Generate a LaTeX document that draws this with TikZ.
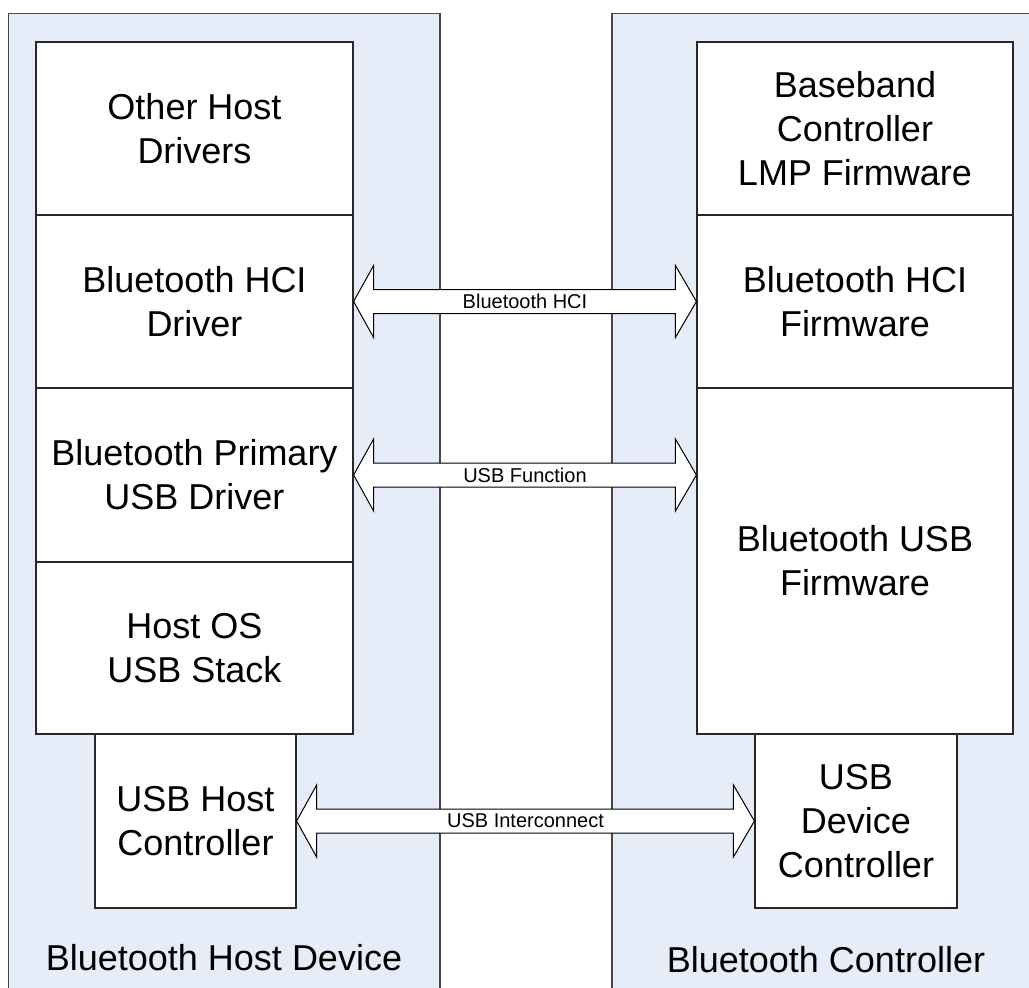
\documentclass[tikz,border=0pt]{standalone}
\usepackage{fontspec}
\setmainfont{Liberation Sans}
\usetikzlibrary{calc}
\definecolor{panelfill}{RGB}{230,237,248}
\definecolor{panelline}{RGB}{70,70,70}
\definecolor{boxline}{RGB}{40,40,40}
\tikzset{
  panel/.style={draw=panelline, fill=panelfill, line width=1.2pt},
  box/.style={draw=boxline, fill=white, line width=1.2pt, rectangle, inner sep=0pt, align=center,
    font=\fontsize{36}{44}\selectfont},
  paneltext/.style={font=\fontsize{36}{44}\selectfont, anchor=base, inner sep=0pt},
  arrowline/.style={draw=black, fill=white, line width=1pt, line join=miter},
  arrowlabel/.style={font=\fontsize{20}{22}\selectfont, inner sep=0pt}
}
\newcommand{\dblarr}[3]{%
  \draw[arrowline] (#1) -- ($(#1)+(20,-36)$) -- ($(#1)+(20,-12)$) -- ($(#2)+(-21,-12)$)
    -- ($(#2)+(-21,-36)$) -- (#2) -- ($(#2)+(-21,36)$) -- ($(#2)+(-21,12)$)
    -- ($(#1)+(20,12)$) -- ($(#1)+(20,36)$) -- cycle;
  \node[arrowlabel] at ($(#1)!0.5!(#2)$) {#3};}
\begin{document}
\begin{tikzpicture}[x=1pt,y=-1pt]
\useasboundingbox (0,0) rectangle (1029,988);
\clip (0,0) rectangle (1029,988);
% panels
\draw[panel] (8.5,13.5) rectangle (440,1010);
\draw[panel] (612,13.5) rectangle (1040,1010);
\node[paneltext] (hostlbl) at (224,970) {Bluetooth Host Device};
\node[paneltext] (ctrllbl) at (826,972) {Bluetooth Controller};
% left stack
\node[box, minimum width=317, minimum height=173] (odrv) at (194.5,128.5) {Other Host\\Drivers};
\node[box, minimum width=317, minimum height=173] (hcidrv) at (194.5,301.5) {Bluetooth HCI\\Driver};
\node[box, minimum width=317, minimum height=174] (usbdrv) at (194.5,475) {Bluetooth Primary\\USB Driver};
\node[box, minimum width=317, minimum height=172] (usbstack) at (194.5,648) {Host OS\\USB Stack};
\node[box, minimum width=201, minimum height=174] (hostctrl) at (195.5,821) {USB Host\\Controller};
% right stack
\node[box, minimum width=316, minimum height=173] (lmp) at (855,128.5) {Baseband\\Controller\\LMP Firmware};
\node[box, minimum width=316, minimum height=173] (hcifw) at (855,301.5) {Bluetooth HCI\\Firmware};
\node[box, minimum width=316, minimum height=346] (usbfw) at (855,561) {Bluetooth USB\\Firmware};
\node[box, minimum width=202, minimum height=174] (devctrl) at (856,821) {USB\\Device\\Controller};
% arrows
\coordinate (h1) at (hcidrv.east);
\coordinate (h2) at (hcidrv.east -| hcifw.west);
\dblarr{h1}{h2}{Bluetooth HCI}
\coordinate (f1) at (usbdrv.east);
\coordinate (f2) at (usbdrv.east -| usbfw.west);
\dblarr{f1}{f2}{USB Function}
\coordinate (i1) at (hostctrl.east);
\coordinate (i2) at (hostctrl.east -| devctrl.west);
\dblarr{i1}{i2}{USB Interconnect}
\end{tikzpicture}
\end{document}
